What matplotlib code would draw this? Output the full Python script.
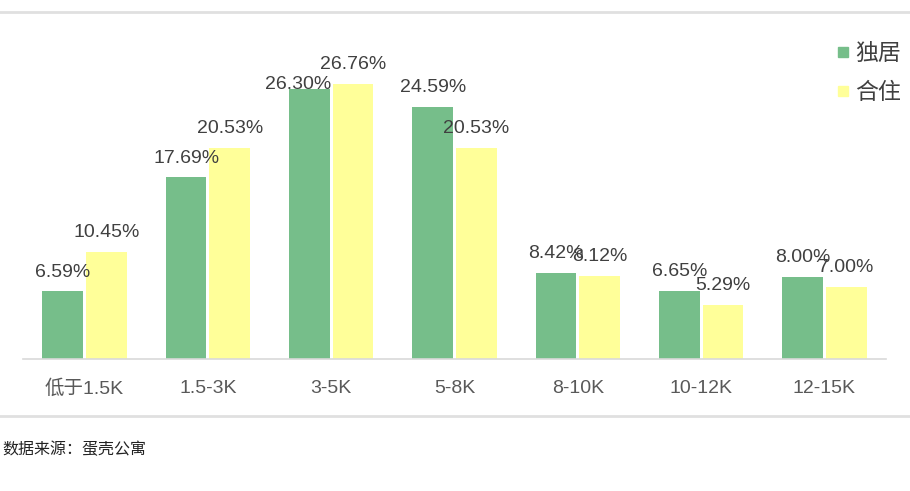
import matplotlib.pyplot as plt
import numpy as np
from matplotlib.lines import Line2D

plt.rcParams['font.family'] = ['Liberation Sans', 'Noto Sans CJK SC', 'DejaVu Sans']

categories = ['低于1.5K', '1.5-3K', '3-5K', '5-8K', '8-10K', '10-12K', '12-15K']
alone = [6.59, 17.69, 26.30, 24.59, 8.42, 6.65, 8.00]
shared = [10.45, 20.53, 26.76, 20.53, 8.12, 5.29, 7.00]
series_names = ['独居', '合住']
source_text = '数据来源：蛋壳公寓'

green = '#76BE8A'
yellow = '#FFFF99'

W, H = 910, 491
fig = plt.figure(figsize=(W / 100, H / 100), dpi=100)

# axes placed in pixel terms: baseline at y=359, span x 23..886
left, right = 23, 886
top, bottom = 51, 359
ax = fig.add_axes([left / W, 1 - bottom / H, (right - left) / W, (bottom - top) / H])

x = np.arange(len(categories))
bw = 0.33
gap = 0.012
ax.bar(x - bw / 2 - gap, alone, width=bw, color=green)
ax.bar(x + bw / 2 + gap, shared, width=bw, color=yellow)

# the 3-5K green label sits lower and to the left in the original
nudge = {(0, 2): (-0.09, -1.4)}
for i in range(len(categories)):
    for k, vals in enumerate([alone, shared]):
        xc = x[i] + (-1 if k == 0 else 1) * (bw / 2 + gap)
        dx, dy = nudge.get((k, i), (0, 0))
        ax.text(xc + dx, vals[i] + 1.05 + dy, '%.2f%%' % vals[i],
                ha='center', va='bottom', fontsize=14, color='#404040')

ax.set_xlim(-0.5, 6.5)
ax.set_ylim(0, 30)
ax.set_yticks([])
ax.set_xticks(x)
ax.set_xticklabels(categories, fontsize=14, color='#595959')
ax.tick_params(axis='x', length=0, pad=15)
for s in ['top', 'right', 'left']:
    ax.spines[s].set_visible(False)
ax.spines['bottom'].set_color('#D9D9D9')
ax.spines['bottom'].set_linewidth(1.2)

# legend
handles = [Line2D([], [], marker='s', ls='', color=green, markersize=7),
           Line2D([], [], marker='s', ls='', color=yellow, markersize=7)]
leg = fig.legend(handles, series_names, loc='upper right', bbox_to_anchor=(1 - 9 / W, 1 - 42 / H),
                 frameon=False, handlelength=0.5, handletextpad=0.3, labelspacing=0.68,
                 borderaxespad=0, borderpad=0,
                 prop={'family': ['Noto Sans CJK SC'], 'size': 16.5})
for t in leg.get_texts():
    t.set_color('#404040')

# horizontal frame lines
fig.add_artist(Line2D([0, 1], [1 - 12 / H, 1 - 12 / H], color='#E0E0E0', lw=2))
fig.add_artist(Line2D([0, 1], [1 - 416 / H, 1 - 416 / H], color='#E0E0E0', lw=2))

fig.text(2 / W, 1 - 450 / H, source_text, fontsize=11.5, color='#222222',
         family=['Noto Sans CJK SC'], va='center', ha='left')

fig.savefig('out.png', dpi=100)
